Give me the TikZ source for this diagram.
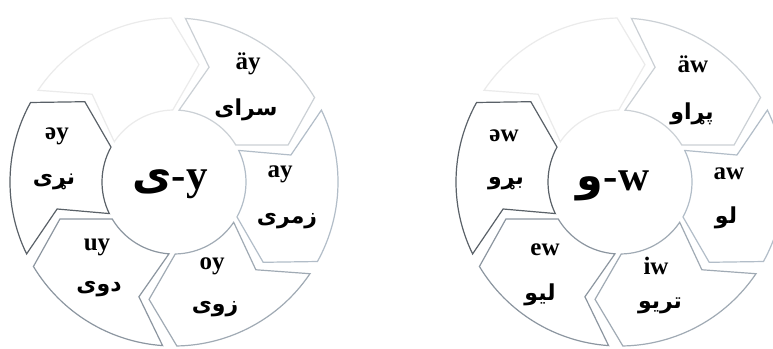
\documentclass[tikz,border=0pt]{standalone}
\usepackage{fontspec}
\setmainfont{Liberation Serif}
\newfontfamily\arabicfont[Script=Arabic]{DejaVu Sans}
\TeXXeTstate=1
\definecolor{czero}{HTML}{EBEBEB}
\definecolor{cone}{HTML}{CBD0D5}
\definecolor{ctwo}{HTML}{B2BDC8}
\definecolor{cthree}{HTML}{A0AAB4}
\definecolor{cfour}{HTML}{8C96A0}
\definecolor{cfive}{HTML}{5A6168}
\newcommand{\ar}[1]{\beginR #1\endR}
\newcommand{\cycseg}[2]{%
  \pgfmathsetmacro{\Ta}{#1+27.5}\pgfmathsetmacro{\La}{#1-27.5}%
  \pgfmathsetmacro{\Lt}{#1-40.5}\pgfmathsetmacro{\Tn}{#1+14.5}%
  \draw[segline,draw=#2] (\Ta:164pt) arc[start angle=\Ta,end angle=\La,radius=164pt]
    -- (\Lt:120pt) -- (\La:72pt) arc[start angle=\La,end angle=\Ta,radius=72pt]
    -- (\Tn:120pt) -- cycle;}
\tikzset{
  segline/.style={line width=1.2pt, line join=miter, fill=white},
  lat/.style={inner sep=0pt, font=\bfseries\fontsize{25}{25}\selectfont},
  arb/.style={inner sep=0pt, font=\arabicfont\bfseries\fontsize{22}{22}\selectfont},
  ctr/.style={inner sep=0pt, font=\bfseries\fontsize{43}{43}\selectfont},
}
\begin{document}
\begin{tikzpicture}
\useasboundingbox (0pt,0pt) rectangle (773pt,-348pt);
\fill[white] (0pt,0pt) rectangle (773pt,-348pt);
\clip (0pt,0pt) rectangle (773pt,-348pt);
% left cycle
\begin{scope}[shift={(174pt,-182pt)}]
  \cycseg{118.5}{czero}
  \cycseg{58.5}{cone}
  \cycseg{-1.5}{ctwo}
  \cycseg{-61.5}{cthree}
  \cycseg{-121.5}{cfour}
  \cycseg{178.5}{cfive}
\end{scope}
% right cycle
\begin{scope}[shift={(620pt,-182pt)}]
  \cycseg{118.5}{czero}
  \cycseg{58.5}{cone}
  \cycseg{-1.5}{ctwo}
  \cycseg{-61.5}{cthree}
  \cycseg{-121.5}{cfour}
  \cycseg{178.5}{cfive}
\end{scope}
% centre labels
\node[ctr] (cy) at (170pt,-184pt) {{\arabicfont ی}-y};
\node[ctr] (cw) at (613pt,-186pt) {{\arabicfont و}-w};
% left labels
\node[lat] (l1) at (248pt,-64pt) {äy};
\node[arb] (a1) at (246pt,-110pt) {\ar{سرای}};
\node[lat] (l2) at (280pt,-174pt) {ay};
\node[arb] (a2) at (287pt,-221pt) {\ar{زمری}};
\node[lat] (l3) at (212pt,-266pt) {oy};
\node[arb] (a3) at (215pt,-309pt) {\ar{زوی}};
\node[lat] (l4) at (97pt,-247pt) {uy};
\node[arb] (a4) at (99pt,-289pt) {\ar{دوی}};
\node[lat] (l5) at (57pt,-136pt) {əy};
\node[arb] (a5) at (54pt,-182pt) {\ar{نړی}};
% right labels
\node[lat] (r1) at (693pt,-64pt) {äw};
\node[arb] (b1) at (692pt,-114pt) {\ar{پړاو}};
\node[lat] (r2) at (729pt,-174pt) {aw};
\node[arb] (b2) at (726pt,-218pt) {\ar{لو}};
\node[lat] (r3) at (656pt,-266pt) {iw};
\node[arb] (b3) at (660pt,-306pt) {\ar{تریو}};
\node[lat] (r4) at (545pt,-250pt) {ew};
\node[arb] (b4) at (540pt,-295pt) {\ar{لیو}};
\node[lat] (r5) at (504pt,-136pt) {əw};
\node[arb] (b5) at (506pt,-184pt) {\ar{بړو}};
\end{tikzpicture}
\end{document}
